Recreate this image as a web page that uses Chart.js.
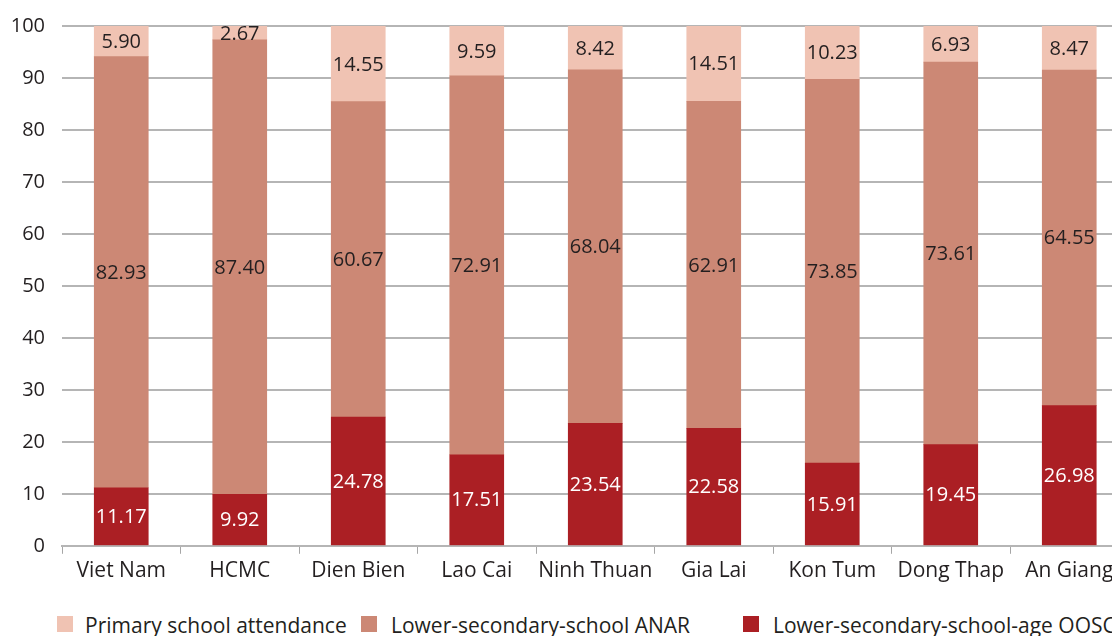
<!DOCTYPE html>
<html>
<head>
<meta charset="utf-8">
<script src="https://cdn.jsdelivr.net/npm/chart.js@4.4.1/dist/chart.umd.min.js"></script>
<style>
  html, body { margin: 0; padding: 0; background: #fff; overflow: hidden; width: 1112px; height: 636px; }
  #wrap { position: absolute; left: 0; top: 0; width: 1140px; height: 600px; }
  .legend { position: absolute; top: 614px; left: 0; width: 1112px; height: 24px; overflow: hidden; white-space: nowrap;
            font-family: "Open Sans", sans-serif; font-size: 21px; color: #231f20; }
  .box { position: absolute; top: 2px; width: 16px; height: 16px; }
  .lbl { position: absolute; top: -3px; }
</style>
</head>
<body>
<div id="wrap"><canvas id="c" width="1140" height="600"></canvas></div>
<div class="legend" id="legend"></div>
<script>
// Provinces / groups on the x axis
const categories = ['Viet Nam', 'HCMC', 'Dien Bien', 'Lao Cai', 'Ninh Thuan', 'Gia Lai', 'Kon Tum', 'Dong Thap', 'An Giang'];

// Shares (%) stacked from the bottom up
const oosc       = [11.17, 9.92, 24.78, 17.51, 23.54, 22.58, 15.91, 19.45, 26.98];
const anar       = [82.93, 87.40, 60.67, 72.91, 68.04, 62.91, 73.85, 73.61, 64.55];
const attendance = [5.90, 2.67, 14.55, 9.59, 8.42, 14.51, 10.23, 6.93, 8.47];

const yTicks = [0, 10, 20, 30, 40, 50, 60, 70, 80, 90, 100];

const seriesNames = ['Primary school attendance', 'Lower-secondary-school ANAR', 'Lower-secondary-school-age OOSC'];
const colors = { attendance: '#f0c3b3', anar: '#cc8875', oosc: '#ab1f24' };

const FONT = '"Open Sans", sans-serif';
const TEXT = '#231f20';

// Writes each segment's value in the middle of its bar piece
const valueLabels = {
  id: 'valueLabels',
  afterDatasetsDraw(chart) {
    const ctx = chart.ctx;
    ctx.save();
    ctx.font = '20px ' + FONT;
    ctx.textAlign = 'center';
    ctx.textBaseline = 'middle';
    chart.data.datasets.forEach((ds, i) => {
      const meta = chart.getDatasetMeta(i);
      meta.data.forEach((el, j) => {
        const p = el.getProps(['x', 'y', 'base'], true);
        ctx.fillStyle = ds.labelColor;
        ctx.fillText(ds.data[j].toFixed(2), p.x, (p.y + p.base) / 2 + 1);
      });
    });
    ctx.restore();
  }
};

new Chart(document.getElementById('c'), {
  type: 'bar',
  data: {
    labels: categories,
    datasets: [
      { label: seriesNames[2], data: oosc, backgroundColor: colors.oosc, labelColor: '#ffffff' },
      { label: seriesNames[1], data: anar, backgroundColor: colors.anar, labelColor: TEXT },
      { label: seriesNames[0], data: attendance, backgroundColor: colors.attendance, labelColor: TEXT }
    ]
  },
  options: {
    responsive: false,
    animation: false,
    events: [],
    layout: { padding: { left: 0, right: 11.5, top: 26, bottom: 11 } },
    datasets: { bar: { barThickness: 54 } },
    plugins: { legend: { display: false }, tooltip: { enabled: false } },
    scales: {
      x: {
        stacked: true,
        grid: { display: true, drawOnChartArea: false, drawTicks: true, tickLength: 8, color: '#a6a6a6', lineWidth: 1, offset: true },
        border: { display: true, color: '#b5b5b5', width: 2 },
        ticks: { color: TEXT, font: { family: FONT, size: 21 }, padding: 5, maxRotation: 0, autoSkip: false }
      },
      y: {
        stacked: true,
        min: 0,
        max: 100,
        afterBuildTicks(scale) { scale.ticks = yTicks.map(v => ({ value: v })); },
        afterFit(scale) {
          scale.width = 62;
          // let the layout padding alone decide the plot top
          scale.paddingTop = 0;
          scale.paddingBottom = 0;
        },
        grid: { color: '#b5b5b5', lineWidth: 2, drawTicks: false },
        border: { display: false },
        ticks: { color: TEXT, font: { family: FONT, size: 20 }, padding: 17 }
      }
    }
  },
  plugins: [valueLabels]
});

// Legend row along the bottom
const legendItems = [
  { name: seriesNames[0], color: colors.attendance, box: 57, text: 85 },
  { name: seriesNames[1], color: colors.anar, box: 361, text: 391 },
  { name: seriesNames[2], color: colors.oosc, box: 743, text: 773 }
];
const legend = document.getElementById('legend');
legendItems.forEach(it => {
  const b = document.createElement('div');
  b.className = 'box';
  b.style.left = it.box + 'px';
  b.style.background = it.color;
  legend.appendChild(b);
  const t = document.createElement('div');
  t.className = 'lbl';
  t.style.left = it.text + 'px';
  t.textContent = it.name;
  legend.appendChild(t);
});
</script>
</body>
</html>
